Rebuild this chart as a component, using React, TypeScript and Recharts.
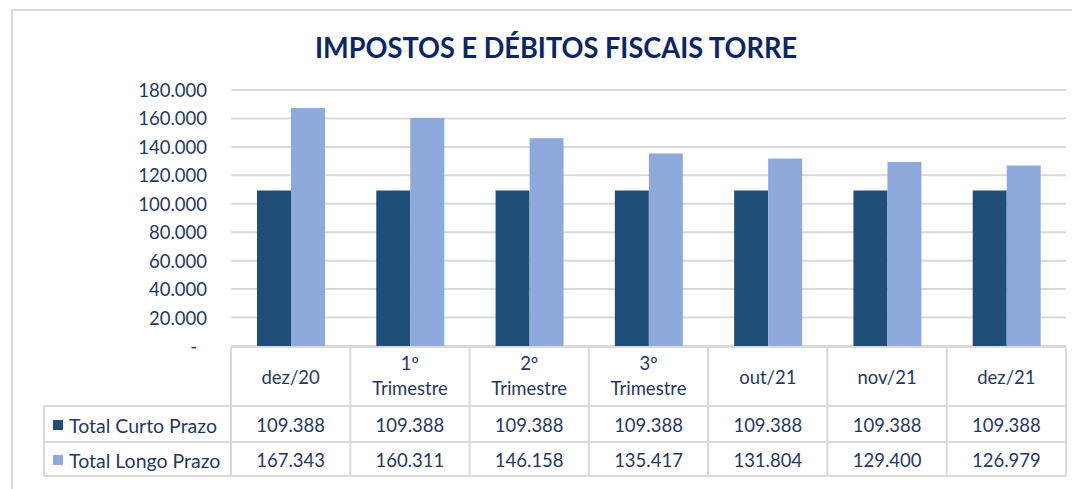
import { Bar, BarChart, CartesianGrid, XAxis, YAxis } from "recharts";

const categories = ["dez/20", "1º Trimestre", "2º Trimestre", "3º Trimestre", "out/21", "nov/21", "dez/21"];
const curtoPrazo = [109388, 109388, 109388, 109388, 109388, 109388, 109388];
const longoPrazo = [167343, 160311, 146158, 135417, 131804, 129400, 126979];
const yTicks = [0, 20000, 40000, 60000, 80000, 100000, 120000, 140000, 160000, 180000];

const seriesNames = ["Total Curto Prazo", "Total Longo Prazo"];
const seriesColors = ["#1f4e79", "#8eaadc"];

const W = 1072;
const H = 489;
const PLOT_LEFT = 231;
const PLOT_RIGHT = 1066;
const PLOT_TOP = 90;
const PLOT_BOTTOM = 346;
const TABLE_LEFT = 44;
const ROW_HEAD_BOTTOM = 406;
const ROW1_BOTTOM = 442;
const ROW2_BOTTOM = 476;
const BAND = (PLOT_RIGHT - PLOT_LEFT) / categories.length;

const FONT = "Lato, 'Open Sans', sans-serif";
const TEXT = "#1f3864";
const GRID = "#d9d9d9";

const data = categories.map((name, i) => ({
  name,
  curto: curtoPrazo[i],
  longo: longoPrazo[i],
}));

const fmt = (v: number) =>
  v === 0 ? "-" : Math.round(v).toString().replace(/\B(?=(\d{3})+(?!\d))/g, ".");

function ValueTick(props: any) {
  const { x, y, payload } = props;
  const zero = payload.value === 0;
  return (
    <text
      x={zero ? x - 10 : x}
      y={y}
      textAnchor="end"
      dominantBaseline="central"
      fill={TEXT}
      fontSize={18.5}
      fontFamily={FONT}
    >
      {fmt(payload.value)}
    </text>
  );
}

function CategoryTick(props: any) {
  const { x, payload } = props;
  const i = payload.index;
  const left = x - BAND / 2;
  const right = x + BAND / 2;
  const label: string = payload.value;
  const parts = label.split(" ");
  const last = i === categories.length - 1;
  const txt = { fill: TEXT, fontSize: 18.5, fontFamily: FONT, textAnchor: "middle" as const, dominantBaseline: "central" as const };
  const headMid = (PLOT_BOTTOM + ROW_HEAD_BOTTOM) / 2 + 1;
  return (
    <g>
      <line x1={left} x2={right} y1={PLOT_BOTTOM + 1} y2={PLOT_BOTTOM + 1} stroke={GRID} strokeWidth={2} />
      {[ROW_HEAD_BOTTOM, ROW1_BOTTOM, ROW2_BOTTOM].map((yy) => (
        <line key={yy} x1={left} x2={right} y1={yy} y2={yy} stroke={GRID} strokeWidth={2} />
      ))}
      <line x1={left} x2={left} y1={PLOT_BOTTOM + 1} y2={ROW2_BOTTOM} stroke={GRID} strokeWidth={2} />
      {last && <line x1={right} x2={right} y1={PLOT_BOTTOM + 1} y2={ROW2_BOTTOM} stroke={GRID} strokeWidth={2} />}
      {parts.length === 1 ? (
        <text x={x} y={headMid} {...txt}>{label}</text>
      ) : (
        <>
          <text x={x} y={headMid - 14} {...txt}>{parts[0]}</text>
          <text x={x} y={headMid + 11} {...txt}>{parts.slice(1).join(" ")}</text>
        </>
      )}
      <text x={x} y={(ROW_HEAD_BOTTOM + ROW1_BOTTOM) / 2 + 1} {...txt}>{fmt(curtoPrazo[i])}</text>
      <text x={x} y={(ROW1_BOTTOM + ROW2_BOTTOM) / 2 + 1} {...txt}>{fmt(longoPrazo[i])}</text>
    </g>
  );
}

export default function App() {
  const rows = [ROW_HEAD_BOTTOM, ROW1_BOTTOM, ROW2_BOTTOM];
  return (
    <div style={{ position: "absolute", left: 0, top: 0, width: W, height: H, background: "#fff", overflow: "hidden" }}>
      <svg width={W} height={H} style={{ position: "absolute", left: 0, top: 0 }}>
        <rect x={12} y={10} width={1200} height={600} fill="none" stroke="#d9d9d9" strokeWidth={2} />
        <text
          x={556}
          y={58}
          textAnchor="middle"
          fill="#0b2566"
          fontSize={28}
          fontWeight={700}
          fontFamily={FONT}
          textLength={482}
          lengthAdjust="spacingAndGlyphs"
        >
          IMPOSTOS E DÉBITOS FISCAIS TORRE
        </text>
      </svg>
      <div style={{ position: "absolute", left: 0, top: 0 }}>
        <BarChart
          width={W}
          height={H}
          data={data}
          margin={{ top: PLOT_TOP, right: W - PLOT_RIGHT, bottom: H - ROW2_BOTTOM - 1, left: 0 }}
          barGap={0}
        >
          <CartesianGrid vertical={false} stroke={GRID} strokeWidth={2} />
          <YAxis
            width={PLOT_LEFT}
            domain={[0, 180000]}
            ticks={yTicks}
            interval={0}
            axisLine={false}
            tickLine={false}
            tickMargin={18}
            tick={(p: any) => <ValueTick {...p} />}
          />
          <XAxis
            dataKey="name"
            height={ROW2_BOTTOM + 1 - PLOT_BOTTOM}
            interval={0}
            axisLine={false}
            tickLine={false}
            tick={(p: any) => <CategoryTick {...p} />}
          />
          <Bar dataKey="curto" name={seriesNames[0]} fill={seriesColors[0]} barSize={34} isAnimationActive={false} />
          <Bar dataKey="longo" name={seriesNames[1]} fill={seriesColors[1]} barSize={34} isAnimationActive={false} />
        </BarChart>
      </div>
      <svg width={W} height={H} style={{ position: "absolute", left: 0, top: 0, pointerEvents: "none" }}>
        {rows.map((yy) => (
          <line key={yy} x1={TABLE_LEFT} x2={PLOT_LEFT} y1={yy} y2={yy} stroke={GRID} strokeWidth={2} />
        ))}
        <line x1={TABLE_LEFT} x2={TABLE_LEFT} y1={ROW_HEAD_BOTTOM} y2={ROW2_BOTTOM} stroke={GRID} strokeWidth={2} />
        {seriesNames.map((name, i) => {
          const cy = i === 0 ? (ROW_HEAD_BOTTOM + ROW1_BOTTOM) / 2 + 1 : (ROW1_BOTTOM + ROW2_BOTTOM) / 2 + 1;
          return (
            <g key={name}>
              <rect x={53} y={cy - 5} width={10} height={10} fill={seriesColors[i]} />
              <text x={69} y={cy} dominantBaseline="central" fill={TEXT} fontSize={19.5} fontFamily={FONT}>
                {name}
              </text>
            </g>
          );
        })}
      </svg>
    </div>
  );
}
